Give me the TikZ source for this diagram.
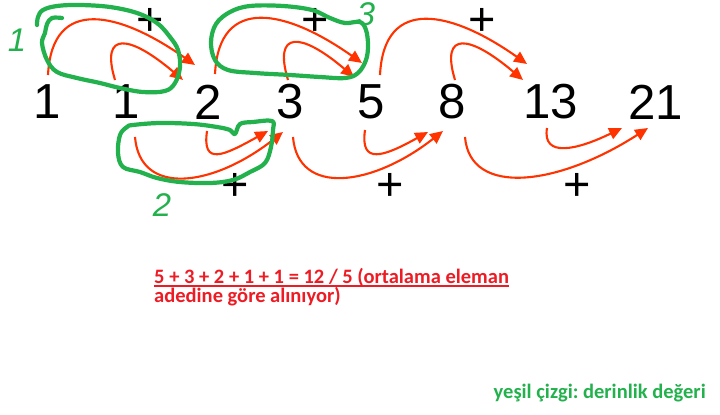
\documentclass[tikz,border=0pt]{standalone}
\usepackage{fontspec}
\setmainfont{Liberation Sans}
\newfontfamily\calib{Carlito}
\usepackage{tikz}
\usetikzlibrary{arrows.meta}
\frenchspacing

\definecolor{arcred}{HTML}{FF3300}
\definecolor{penGreen}{HTML}{22B14C}
\definecolor{txtred}{HTML}{ED1C24}

\begin{document}
\begin{tikzpicture}[x=0.03cm,y=-0.03cm,
  num/.style={inner sep=0pt,font=\fontsize{42}{48}\selectfont},
  plus/.style={inner sep=0pt,anchor=base,font=\fontsize{40}{46}\selectfont},
  redarc/.style={draw=arcred,line width=1.8pt,-{Triangle[length=11pt,width=10pt]}},
  greenloop/.style={draw=penGreen,line width=3.6pt,line cap=round,line join=round},
  penlabel/.style={inner sep=0pt,text=penGreen,font=\fontsize{28}{30}\selectfont\itshape},
  note/.style={inner sep=0pt,anchor=base west,font=\calib\bfseries\fontsize{17.5}{20}\selectfont}]
\useasboundingbox (0,0) rectangle (720,414);

% the numbers
\node[num] (n1a) at (47,102) {1};
\node[num] (n1b) at (126,102) {1};
\node[num] (n2) at (208,102) {2};
\node[num] (n3) at (290,102) {3};
\node[num] (n5) at (371,102) {5};
\node[num] (n8) at (452,102) {8};
\node[num] (n13) at (551,102) {13};
\node[num] (n21) at (656,102) {21};

% plus signs
\node[plus] (p1) at (150,35) {+};
\node[plus] (p2) at (315,35) {+};
\node[plus] (p3) at (482,35) {+};
\node[plus] (q1) at (235,200) {+};
\node[plus] (q2) at (390,200) {+};
\node[plus] (q3) at (577,200) {+};

% upper sums
\draw[redarc] ([shift={(1,-27)}]n1a.center) .. controls +(4,-80) and +(-75,-53) .. ([shift={(-13,-37)}]n2.center);
\draw[redarc] ([shift={(-11,-22)}]n1b.center) .. controls +(-15,-50) and +(-53,-45) .. ([shift={(-25,-22)}]n2.center);
\draw[redarc] ([shift={(7,-28)}]n2.center) .. controls +(4,-80) and +(-75,-53) .. ([shift={(-9,-39)}]n5.center);
\draw[redarc] ([shift={(-2,-22)}]n3.center) .. controls +(-15,-50) and +(-53,-45) .. ([shift={(-17,-25)}]n5.center);
\draw[redarc] ([shift={(9,-27)}]n5.center) .. controls +(4,-80) and +(-75,-53) .. ([shift={(-24,-38)}]n13.center);
\draw[redarc] ([shift={(3,-22)}]n8.center) .. controls +(-15,-50) and +(-53,-45) .. ([shift={(-28,-22)}]n13.center);

% lower sums
\draw[redarc] ([shift={(9,35)}]n1b.center) .. controls +(5,60) and +(-70,55) .. ([shift={(-7,30)}]n3.center);
\draw[redarc] ([shift={(-1,29)}]n2.center) .. controls +(-5,35) and +(-45,25) .. ([shift={(-22,29)}]n3.center);
\draw[redarc] ([shift={(3,35)}]n3.center) .. controls +(5,60) and +(-70,55) .. ([shift={(-9,29)}]n8.center);
\draw[redarc] ([shift={(-6,28)}]n5.center) .. controls +(-5,35) and +(-45,25) .. ([shift={(-24,30)}]n8.center);
\draw[redarc] ([shift={(13,35)}]n8.center) .. controls +(5,60) and +(-90,58) .. ([shift={(-8,26)}]n21.center);
\draw[redarc] ([shift={(-4,26)}]n13.center) .. controls +(-5,30) and +(-45,22) .. ([shift={(-34,26)}]n21.center);

% green pen loops
\draw[greenloop] plot[smooth,tension=0.6] coordinates {(62,18) (52,18) (47,24) (45,33) (42,43) (47,60) (57,72) (77,78) (100,83) (120,88) (143,92) (165,91) (175,83) (180,67) (178,50) (170,37) (157,23) (137,13) (110,7) (80,5) (57,6) (43,10) (38,17) (37,25)};
\draw[greenloop] plot[smooth cycle,tension=0.6] coordinates {(250,6) (283,6) (312,10) (330,18) (345,23) (360,22) (366,30) (368,45) (366,60) (358,73) (345,78) (320,77) (290,75) (255,73) (228,70) (215,60) (211,42) (216,24) (230,12)};
\draw[greenloop] plot[smooth cycle,tension=0.6] coordinates {(133,125) (160,123) (193,124) (217,127) (230,130) (235,134) (240,124) (253,122) (272,121) (273,130) (271,147) (265,163) (250,172) (233,180) (210,183) (180,182) (157,178) (140,172) (123,167) (118,153) (120,135) (127,127)};

\node[penlabel] (g1) at (17,40) {1};
\node[penlabel] (g2) at (162,205) {2};
\node[penlabel] (g3) at (366,14) {3};

% notes
\node[note,text=txtred] (t1) at (154,283) {5 + 3 + 2 + 1 + 1 = 12 / 5 (ortalama eleman};
\node[note,text=txtred] (t2) at (154,302) {adedine göre alınıyor)};
\draw[txtred,line width=1.5pt] ([shift={(0,3)}]t1.base west) -- ([shift={(0,3)}]t1.base east);
\node[note,text=penGreen,anchor=base east] (t3) at (706,398) {yeşil çizgi: derinlik değeri};
\end{tikzpicture}
\end{document}
